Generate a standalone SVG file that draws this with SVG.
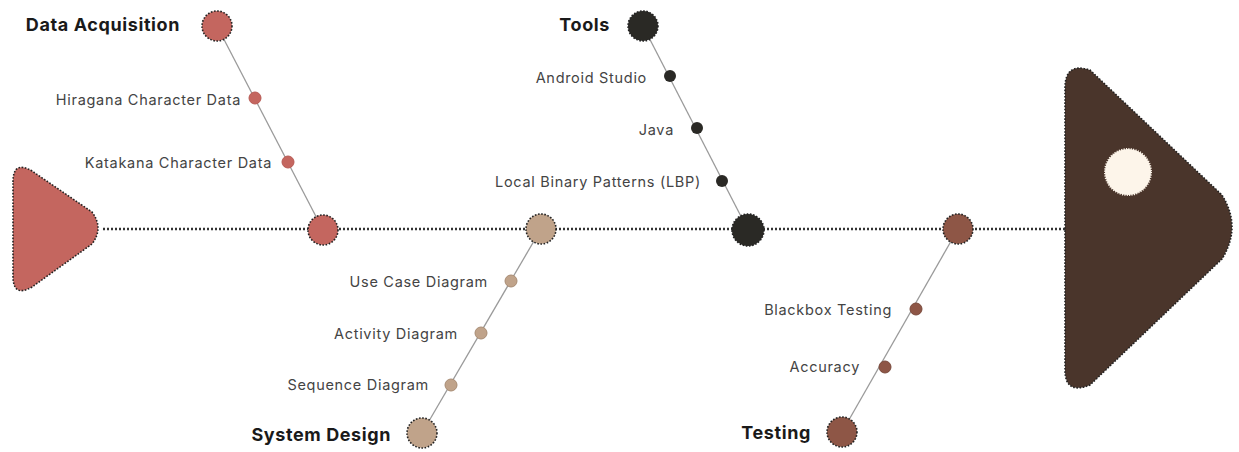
<svg xmlns="http://www.w3.org/2000/svg" width="1239" height="452" viewBox="0 0 1239 452">
<style>
.lbl{font-family:Inter,"Liberation Sans",sans-serif;font-size:14.5px;letter-spacing:0.7px;fill:#444;text-anchor:end;dominant-baseline:central}
.ttl{font-family:Inter,"Liberation Sans",sans-serif;font-size:18px;letter-spacing:0.6px;font-weight:700;fill:#1a1a1a;text-anchor:end;dominant-baseline:central}
.dot{stroke:#222;stroke-width:1.6;stroke-dasharray:1.6 1.6}
.bone{stroke:#9a9a9a;stroke-width:1.3;fill:none}
.r{fill:#c4665f}.b{fill:#c0a38a}.k{fill:#2a2925}.t{fill:#8e5646}
</style>
<rect width="1239" height="452" fill="#ffffff"/>
<g id="connectors">
<line x1="103" y1="229" x2="1065" y2="229" stroke="#333" stroke-width="2.6" stroke-dasharray="2 2"/>
<line class="bone" x1="217" y1="26" x2="323" y2="230"/>
<line class="bone" x1="643" y1="26" x2="748" y2="230"/>
<line class="bone" x1="541" y1="229" x2="422" y2="433"/>
<line class="bone" x1="958" y1="229" x2="842" y2="432"/>
</g>
<g id="tail">
<path d="M13,182 Q13,160 32,171 L92,212 Q104,228 92,244 L32,287 Q13,298 13,276 Z" fill="#c4665f" class="dot"/>
</g>
<g id="head">
<path d="M1065,88 Q1065,62 1090,70 L1222,195 Q1242,227 1222,259 L1090,385 Q1065,395 1065,370 Z" fill="#4a352b" class="dot"/>
<circle cx="1128" cy="172" r="23" fill="#fdf5ea" stroke="#fdf5ea" stroke-width="2" stroke-dasharray="1.2 1.2"/>
</g>
<g id="data-acquisition">
<circle cx="217" cy="26" r="15" class="r dot"/>
<circle cx="323" cy="230" r="15" class="r dot"/>
<circle cx="255" cy="98" r="6" class="r" stroke="#b85a54" stroke-width="1"/>
<circle cx="288" cy="162" r="6" class="r" stroke="#b85a54" stroke-width="1"/>
<text class="ttl" x="180" y="24">Data Acquisition</text>
<text class="lbl" x="241" y="99">Hiragana Character Data</text>
<text class="lbl" x="272" y="162">Katakana Character Data</text>
</g>
<g id="tools">
<circle cx="643" cy="26" r="15" class="k dot"/>
<circle cx="748" cy="230" r="16" class="k dot"/>
<circle cx="670" cy="76" r="6" class="k"/>
<circle cx="697" cy="128" r="6" class="k"/>
<circle cx="722" cy="181" r="6" class="k"/>
<text class="ttl" x="610" y="24">Tools</text>
<text class="lbl" x="647" y="77">Android Studio</text>
<text class="lbl" x="674" y="129">Java</text>
<text class="lbl" x="701" y="181">Local Binary Patterns (LBP)</text>
</g>
<g id="system-design">
<circle cx="541" cy="229" r="15" class="b dot"/>
<circle cx="422" cy="433" r="15" class="b dot"/>
<circle cx="511" cy="281" r="6" class="b" stroke="#a88c74" stroke-width="1"/>
<circle cx="481" cy="333" r="6" class="b" stroke="#a88c74" stroke-width="1"/>
<circle cx="451" cy="385" r="6" class="b" stroke="#a88c74" stroke-width="1"/>
<text class="ttl" x="391" y="434">System Design</text>
<text class="lbl" x="488" y="281">Use Case Diagram</text>
<text class="lbl" x="458" y="333">Activity Diagram</text>
<text class="lbl" x="429" y="384">Sequence Diagram</text>
</g>
<g id="testing">
<circle cx="958" cy="229" r="15" class="t dot"/>
<circle cx="842" cy="432" r="15" class="t dot"/>
<circle cx="916" cy="309" r="6" class="t" stroke="#7a4a3c" stroke-width="1"/>
<circle cx="885" cy="367" r="6" class="t" stroke="#7a4a3c" stroke-width="1"/>
<text class="ttl" x="811" y="432">Testing</text>
<text class="lbl" x="892" y="309">Blackbox Testing</text>
<text class="lbl" x="860" y="366">Accuracy</text>
</g>
</svg>
